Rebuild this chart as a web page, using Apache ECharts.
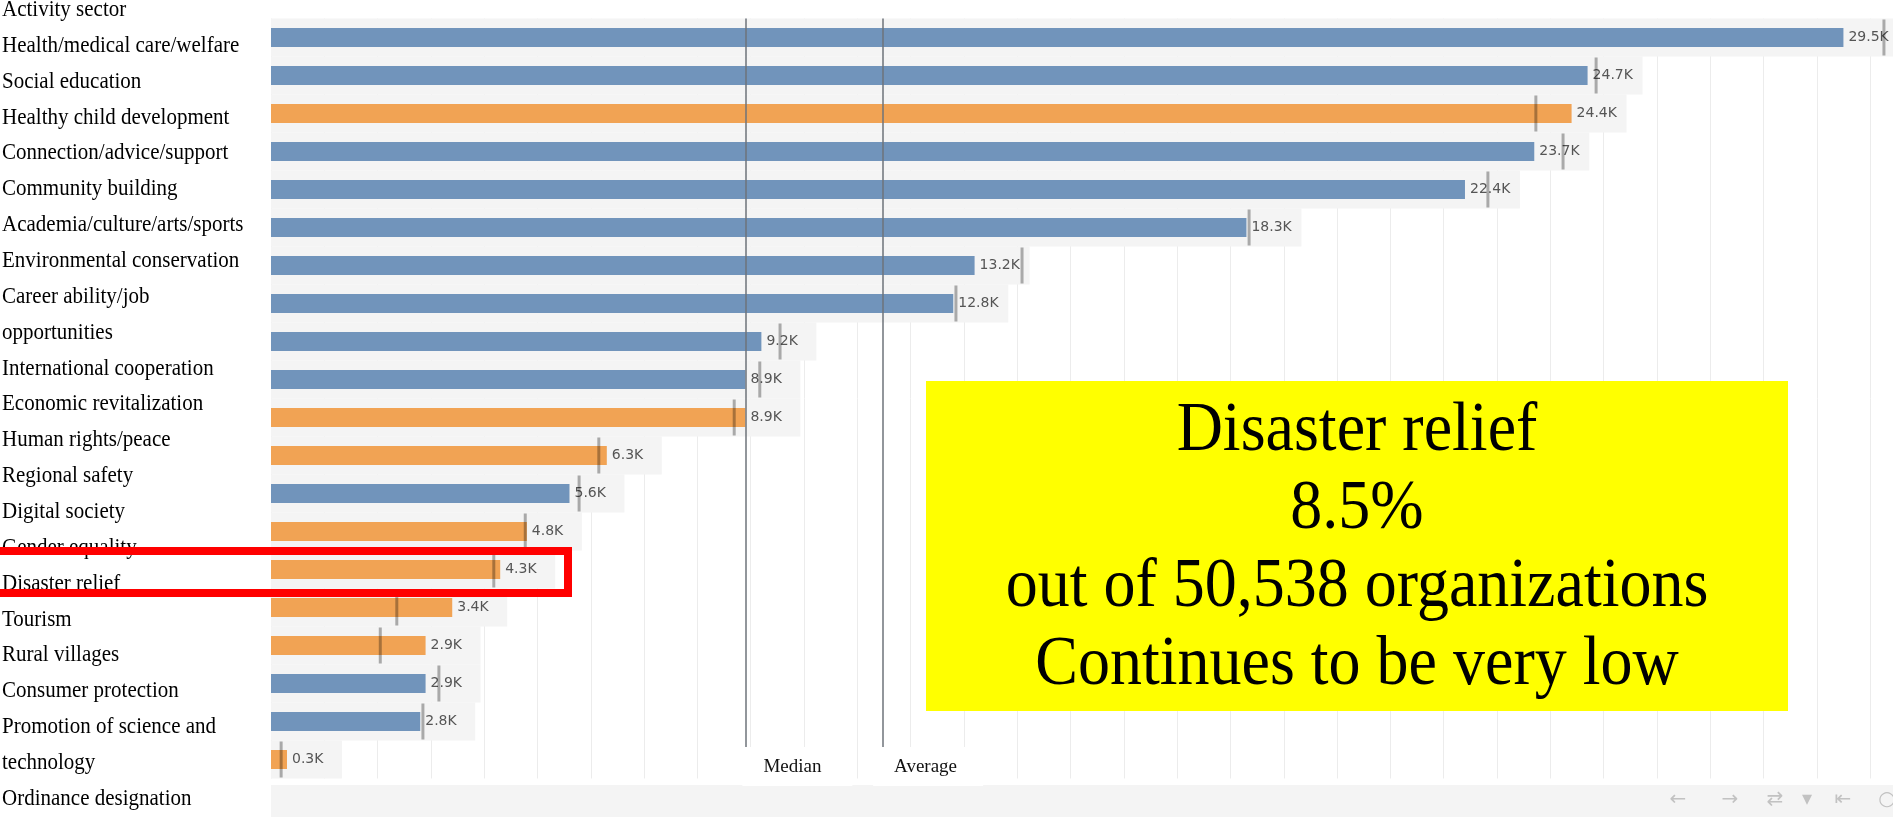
<!DOCTYPE html>
<html><head><meta charset="utf-8">
<script src="https://cdn.jsdelivr.net/npm/echarts@6/dist/echarts.min.js"></script>
<style>html,body{margin:0;padding:0;background:#fff}#c{width:1893px;height:817px}</style>
</head><body><div id="c"></div>
<script>
// ---- data ----
const categories = ['Health/medical care/welfare','Social education','Healthy child development','Connection/advice/support','Community building','Academia/culture/arts/sports','Environmental conservation','Career ability/job opportunities','International cooperation','Economic revitalization','Human rights/peace','Regional safety','Digital society','Gender equality','Disaster relief','Tourism','Rural villages','Consumer protection','Promotion of science and technology','Ordinance designation'];
const values = [29.5,24.7,24.4,23.7,22.4,18.3,13.2,12.8,9.2,8.9,8.9,6.3,5.6,4.8,4.3,3.4,2.9,2.9,2.8,0.3];
const priorMarks = [30.26,24.86,23.73,24.24,22.83,18.35,14.09,12.85,9.55,9.17,8.69,6.15,5.78,4.77,4.18,2.36,2.05,3.15,2.85,0.19];
const increased = [false,false,true,false,false,false,false,false,false,false,true,true,false,true,true,true,true,false,false,true];
const sideLabels = ['Activity sector','Health/medical care/welfare','Social education','Healthy child development','Connection/advice/support','Community building','Academia/culture/arts/sports','Environmental conservation','Career ability/job','opportunities','International cooperation','Economic revitalization','Human rights/peace','Regional safety','Digital society','Gender equality','Disaster relief','Tourism','Rural villages','Consumer protection','Promotion of science and','technology','Ordinance designation'];
const noteLines = ['Disaster relief','8.5%','out of 50,538 organizations','Continues to be very low'];
const refLabels = ['Median','Average'];
const toolbarIcons = ['\u2190','\u2192','\u21C4','\u25BE','\u21E4','\u25CB'];

// ---- styles ----
const BLUE = '#7194bb', ORANGE = '#f1a354', BAND = '#f4f4f4';
const chart = echarts.init(document.getElementById('c'), null, {renderer:'canvas'});

const barData = values.map((v,i)=>({value:v, itemStyle:{color: increased[i] ? ORANGE : BLUE}}));
const markData = priorMarks.map((m,i)=>[m,i]);
const bandData = values.map((v,i)=>[i,v,priorMarks[i]]);

chart.setOption({
  animation:false,
  backgroundColor:'#ffffff',
  grid:{left:271, top:18.5, height:760, right:0, containLabel:false},
  xAxis:{type:'value', min:0, max:30.43, interval:1,
    axisLabel:{show:false}, axisLine:{show:false}, axisTick:{show:false},
    splitLine:{show:true, lineStyle:{color:'#ececec', width:1}}},
  yAxis:{type:'category', data:categories, inverse:true,
    axisLabel:{show:false}, axisLine:{show:false}, axisTick:{show:false}, splitLine:{show:false}},
  series:[
    {type:'custom', z:1, silent:true, encode:{x:1, y:0}, data:bandData,
      renderItem:function(params, api){
        const idx = api.value(0), v = api.value(1), m = api.value(2);
        const p0 = api.coord([0, idx]);
        const pv = api.coord([v, idx]);
        const pm = api.coord([m, idx]);
        const h = api.size([0,1])[1];
        const end = Math.max(pv[0] + 55, pm[0] + 6);
        return {type:'rect', shape:{x:p0[0], y:p0[1]-h/2, width:end-p0[0], height:h}, style:{fill:BAND}};
      }},
    {type:'bar', z:2, data:barData, barWidth:19,
      label:{show:true, position:'right', distance:5, color:'#555', fontFamily:'DejaVu Sans', fontSize:14,
        formatter:p=>p.value.toFixed(1)+'K'},
      markLine:{silent:true, symbol:'none', label:{show:false},
        lineStyle:{color:'#6e737a', width:1.5, type:'solid'},
        data:[{type:'median', valueDim:'x'},{type:'average', valueDim:'x'}]}},
    {type:'scatter', z:5, data:markData, symbol:'rect', symbolSize:[3,36],
      itemStyle:{color:'rgba(0,0,0,0.38)'}, silent:true}
  ]
});

// reference values for label boxes
const sorted = values.slice().sort((a,b)=>a-b);
const n = sorted.length;
const median = n%2 ? sorted[(n-1)/2] : (sorted[n/2-1]+sorted[n/2])/2;
const average = values.reduce((a,b)=>a+b,0)/n;
const refX = [median, average].map(v=>chart.convertToPixel({xAxisIndex:0}, v));
const boxOff = [-3, -9], textOff = [18, 12];

const g = [];
// footer toolbar band
g.push({type:'rect', z:50, shape:{x:271, y:785, width:1622, height:32}, style:{fill:'#f4f4f4'}});
const iconX = [1678,1730,1775,1807,1843,1887];
toolbarIcons.forEach((t,i)=>g.push({type:'text', z:51, x:iconX[i], y:800,
  style:{text:t, fill:'#c2c2c2', font:'20px "DejaVu Sans"', align:'center', verticalAlign:'middle'}}));
// median / average label boxes
refLabels.forEach((t,i)=>{
  g.push({type:'rect', z:60, shape:{x:refX[i]+boxOff[i], y:747, width:110, height:39}, style:{fill:'#ffffff'}});
  g.push({type:'text', z:61, x:refX[i]+textOff[i], y:767,
    style:{text:t, fill:'#111', font:'19px "Liberation Serif"', align:'left', verticalAlign:'middle'}});
});
// left column labels
sideLabels.forEach((t,i)=>g.push({type:'text', z:70, x:2, y:10+i*35.85, scaleY:1.1,
  style:{text:t, fill:'#000', font:'21px "Liberation Serif"', align:'left', verticalAlign:'middle'}}));
// red highlight
g.push({type:'rect', z:80, shape:{x:-10, y:551, width:578, height:42},
  style:{fill:null, stroke:'#ff0000', lineWidth:8}});
// yellow note
g.push({type:'rect', z:90, shape:{x:926, y:381, width:862, height:330}, style:{fill:'#ffff00'}});
noteLines.forEach((t,i)=>g.push({type:'text', z:91, x:1357, y:432+i*78, scaleY:1.1,
  style:{text:t, fill:'#000', font:'64px "Liberation Serif"', align:'center', verticalAlign:'middle'}}));

chart.setOption({graphic:{elements:g}});
</script></body></html>
